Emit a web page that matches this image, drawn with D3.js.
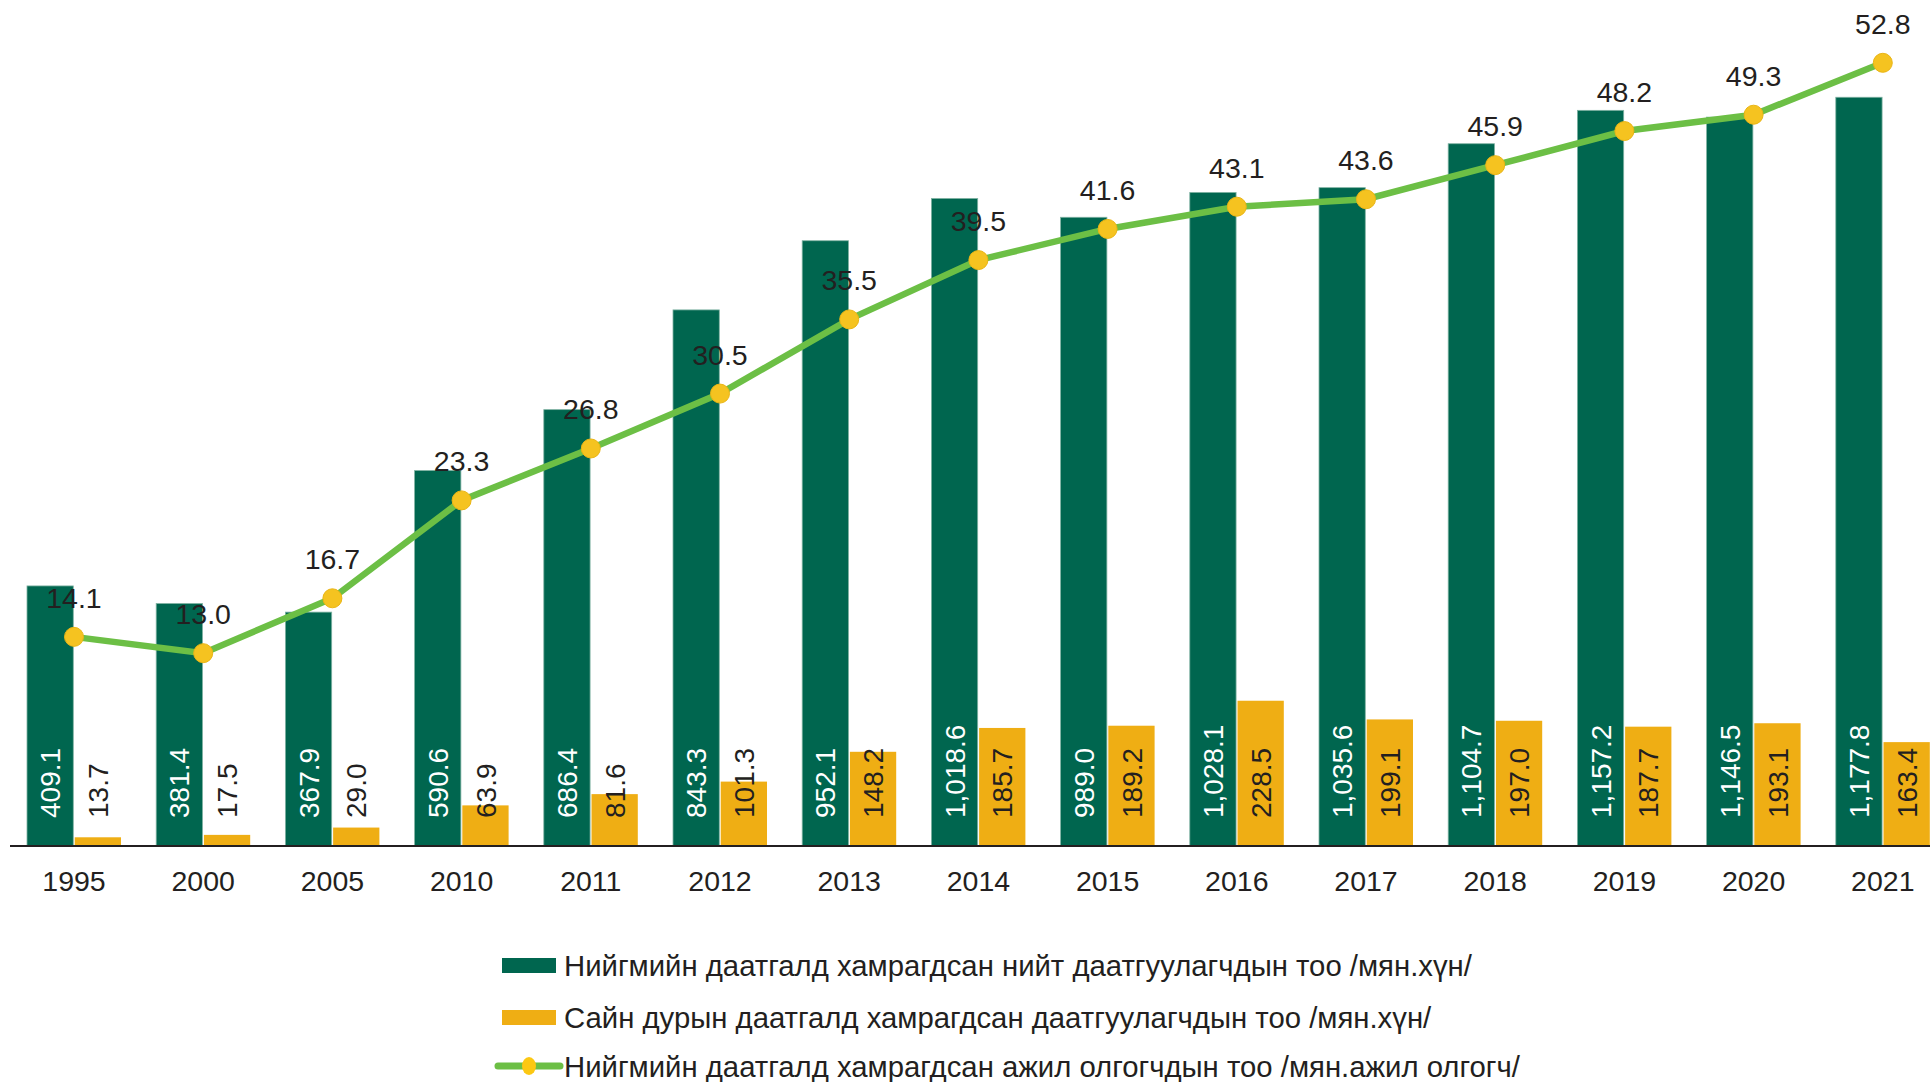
<!DOCTYPE html>
<html>
<head>
<meta charset="utf-8">
<script src="https://cdn.jsdelivr.net/npm/d3@7"></script>
<style>
  html, body { margin: 0; padding: 0; background: #fff; }
  svg { display: block; }
</style>
</head>
<body>
<svg id="chart"></svg>
<script>
const W = 1930
const H = 1082
const font = '"Liberation Sans", Arial, sans-serif'
const textColor = '#231f20'
const greenColor = '#00664f'
const yellowColor = '#efae14'
const lineColor = '#6cbf45'
const dotColor = '#f5c320'
const numSize = 28.5

// data
const years = ['1995', '2000', '2005', '2010', '2011', '2012', '2013', '2014', '2015', '2016', '2017', '2018', '2019', '2020', '2021']
const insuredTotal = [409.1, 381.4, 367.9, 590.6, 686.4, 843.3, 952.1, 1018.6, 989.0, 1028.1, 1035.6, 1104.7, 1157.2, 1146.5, 1177.8]
const insuredVoluntary = [13.7, 17.5, 29.0, 63.9, 81.6, 101.3, 148.2, 185.7, 189.2, 228.5, 199.1, 197.0, 187.7, 193.1, 163.4]
const employers = [14.1, 13.0, 16.7, 23.3, 26.8, 30.5, 35.5, 39.5, 41.6, 43.1, 43.6, 45.9, 48.2, 49.3, 52.8]
const legendLabels = [
  'Нийгмийн даатгалд хамрагдсан нийт даатгуулагчдын тоо /мян.хүн/',
  'Сайн дурын даатгалд хамрагдсан даатгуулагчдын тоо /мян.хүн/',
  'Нийгмийн даатгалд хамрагдсан ажил олгогчдын тоо /мян.ажил олгогч/'
]

const baseY = 846
const topY = -44

const svg = d3.select('#chart').attr('width', W).attr('height', H)

const x = d3.scaleBand()
  .domain(years)
  .range([9.4, 9.4 + 129.2 * years.length])
  .padding(0)

const xSub = d3.scaleBand()
  .domain(['total', 'voluntary'])
  .range([-47, 47])
  .paddingInner(0.03)

const yBar = d3.scaleLinear().domain([0, 1400]).range([baseY, topY])
const yLine = d3.scaleLinear().domain([0, 60]).range([baseY, topY])

const cx = (d) => x(d) + x.bandwidth() / 2

const rows = years.map((yr, i) => ({
  year: yr,
  total: insuredTotal[i],
  voluntary: insuredVoluntary[i],
  emp: employers[i]
}))

// bars
const groups = svg.append('g').selectAll('g')
  .data(rows)
  .enter()
  .append('g')
  .attr('transform', (d) => `translate(${cx(d.year)},0)`)

groups.append('rect')
  .attr('x', xSub('total'))
  .attr('y', (d) => yBar(d.total))
  .attr('width', xSub.bandwidth())
  .attr('height', (d) => baseY - yBar(d.total))
  .style('fill', greenColor)
  .style('stroke', '#7fb2a2')
  .style('stroke-width', 0.8)

groups.append('rect')
  .attr('x', xSub('voluntary'))
  .attr('y', (d) => yBar(d.voluntary))
  .attr('width', xSub.bandwidth())
  .attr('height', (d) => baseY - yBar(d.voluntary))
  .style('fill', yellowColor)

// value labels inside bars
groups.append('text')
  .attr('transform', `translate(${xSub('total') + xSub.bandwidth() / 2},${baseY - 28}) rotate(-90)`)
  .attr('dy', '0.36em')
  .attr('text-anchor', 'start')
  .attr('font-family', font)
  .attr('font-size', 28)
  .style('fill', '#ffffff')
  .text((d) => d3.format(',.1f')(d.total))

groups.append('text')
  .attr('transform', `translate(${xSub('voluntary') + xSub.bandwidth() / 2},${baseY - 28}) rotate(-90)`)
  .attr('dy', '0.36em')
  .attr('text-anchor', 'start')
  .attr('font-family', font)
  .attr('font-size', 28)
  .style('fill', textColor)
  .text((d) => d3.format(',.1f')(d.voluntary))

// x axis
const xAxis = svg.append('g')
  .attr('transform', `translate(0,${baseY})`)
  .call(d3.axisBottom(x).tickSize(0).tickPadding(25))

xAxis.select('.domain').remove()
xAxis.selectAll('text')
  .attr('font-family', font)
  .attr('font-size', numSize)
  .style('fill', textColor)

svg.append('line')
  .attr('x1', 10).attr('x2', W)
  .attr('y1', baseY).attr('y2', baseY)
  .style('stroke', '#231f20')
  .style('stroke-width', 2)

// line series
const line = d3.line()
  .x((d) => cx(d.year))
  .y((d) => yLine(d.emp))

svg.append('path')
  .datum(rows)
  .attr('d', line)
  .style('fill', 'none')
  .style('stroke', lineColor)
  .style('stroke-width', 6.5)

svg.append('g').selectAll('circle')
  .data(rows)
  .enter()
  .append('circle')
  .attr('cx', (d) => cx(d.year))
  .attr('cy', (d) => yLine(d.emp))
  .attr('r', 9.5)
  .style('fill', dotColor)
  .style('stroke', '#eab515')
  .style('stroke-width', 1)

svg.append('g').selectAll('text')
  .data(rows)
  .enter()
  .append('text')
  .attr('x', (d) => cx(d.year))
  .attr('y', (d) => yLine(d.emp) - 29)
  .attr('text-anchor', 'middle')
  .attr('font-family', font)
  .attr('font-size', numSize)
  .style('fill', textColor)
  .text((d) => d.emp.toFixed(1))

// legend
const legend = svg.append('g').attr('transform', 'translate(502,0)')
const legendY = [965, 1017, 1066]

legend.append('rect')
  .attr('x', 0).attr('y', legendY[0] - 7)
  .attr('width', 54).attr('height', 15)
  .style('fill', greenColor)

legend.append('rect')
  .attr('x', 0).attr('y', legendY[1] - 7)
  .attr('width', 54).attr('height', 15)
  .style('fill', yellowColor)

legend.append('line')
  .attr('x1', -4).attr('x2', 58)
  .attr('y1', legendY[2]).attr('y2', legendY[2])
  .style('stroke', lineColor)
  .style('stroke-width', 7)
  .style('stroke-linecap', 'round')

legend.append('ellipse')
  .attr('cx', 27).attr('cy', legendY[2])
  .attr('rx', 7).attr('ry', 9)
  .style('fill', '#fcc813')

legend.selectAll('text.lg')
  .data(legendLabels)
  .enter()
  .append('text')
  .attr('class', 'lg')
  .attr('x', 62)
  .attr('y', (d, i) => legendY[i])
  .attr('dy', '0.36em')
  .attr('font-family', font)
  .attr('font-size', 29.3)
  .style('fill', textColor)
  .text((d) => d)
</script>
</body>
</html>
